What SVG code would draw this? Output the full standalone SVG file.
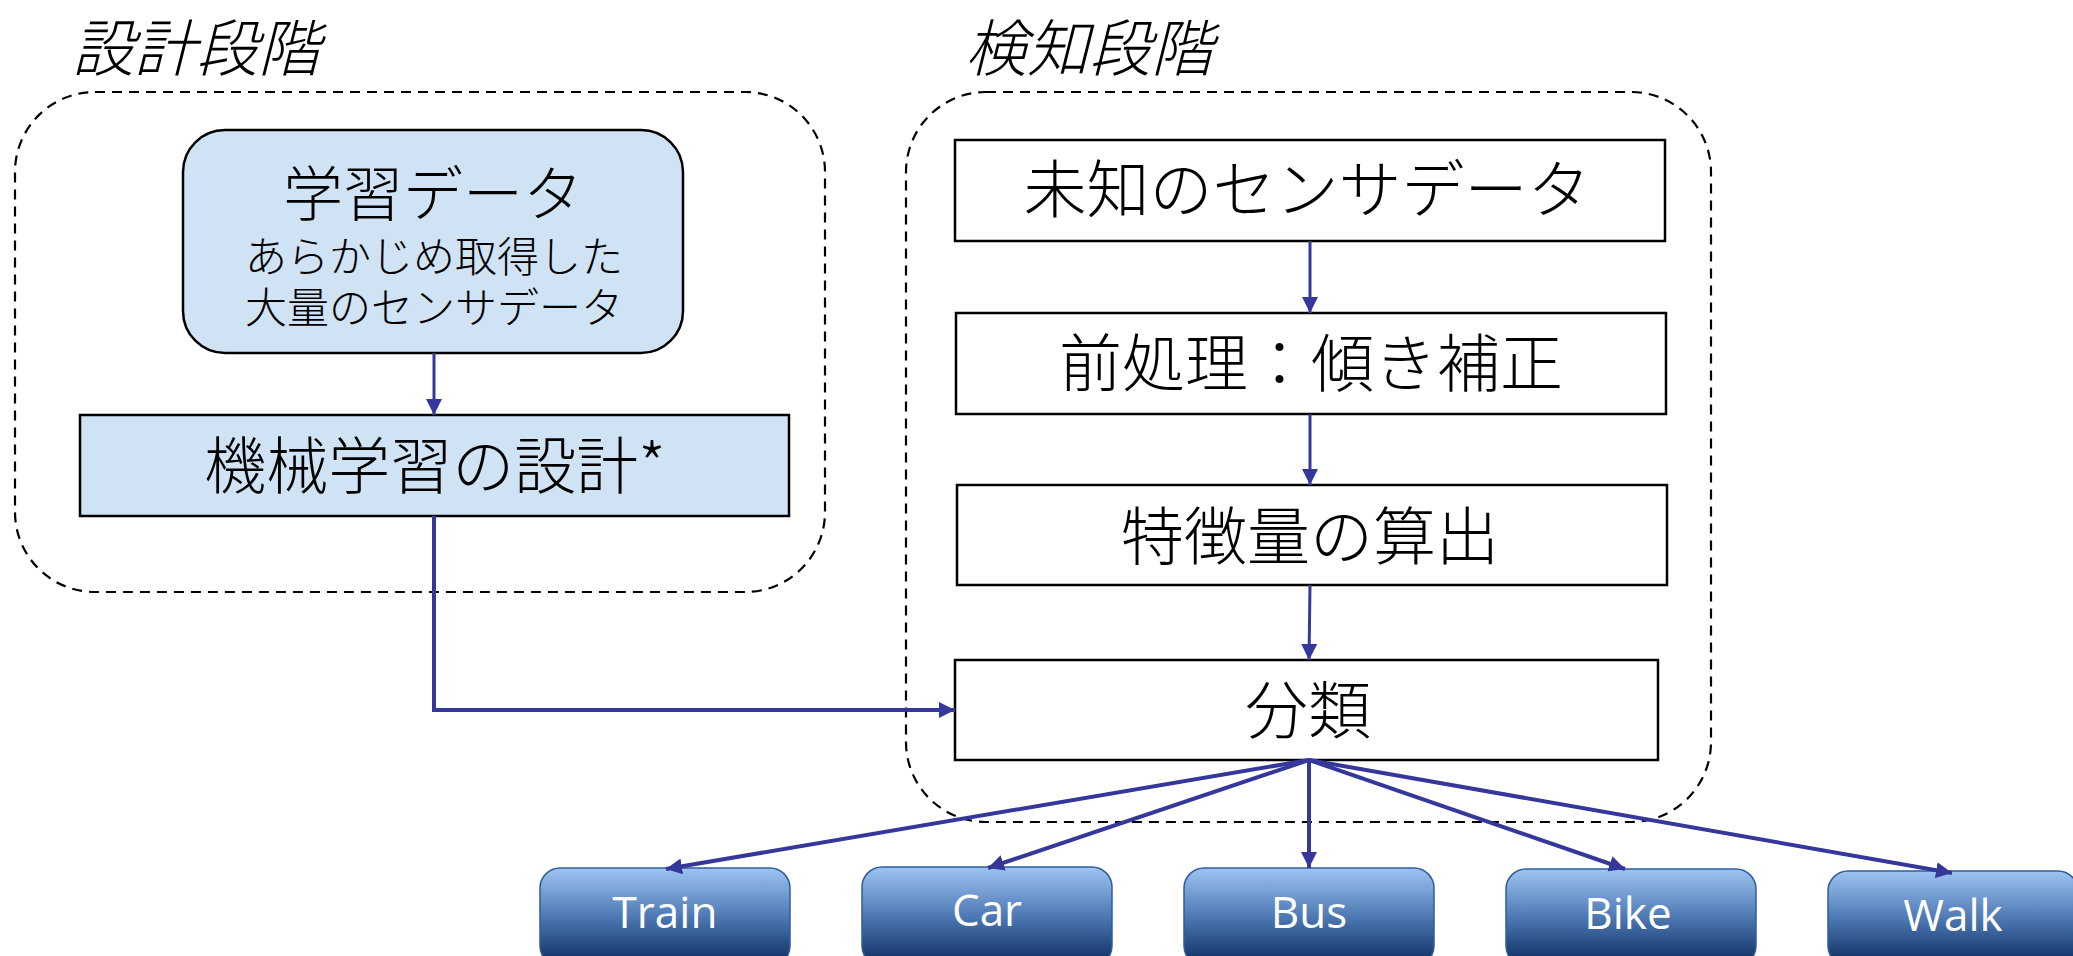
<svg xmlns="http://www.w3.org/2000/svg" width="2073" height="956" viewBox="0 0 2073 956">
<style>
.cjk{font-family:"Noto Sans CJK JP","Noto Sans",sans-serif;font-weight:300;fill:#000;dominant-baseline:central;text-anchor:middle}
.title{font-family:"Noto Sans CJK JP","Noto Sans",sans-serif;font-weight:300;font-size:62px;font-style:italic;fill:#000;dominant-baseline:central}
.container{fill:none;stroke:#000;stroke-width:2.2;stroke-dasharray:10 7}
.proc{fill:#fff;stroke:#000;stroke-width:2.5}
.blue{fill:#cfe3f5;stroke:#000;stroke-width:2.5}
.out{fill:url(#g);stroke:#2f5d9c;stroke-width:1.5}
.outlbl{font-family:"Open Sans","Noto Sans",sans-serif;font-size:44px;fill:#fff;text-anchor:middle}
.conn{fill:none;stroke:#35389a;stroke-width:4;marker-end:url(#ah)}
.thin{stroke-width:3}
</style>
<defs>
<linearGradient id="g" x1="0" y1="0" x2="0" y2="1">
<stop offset="0" stop-color="#9dc4f2"/>
<stop offset="0.5" stop-color="#4d78b3"/>
<stop offset="1" stop-color="#0a2a5e"/>
</linearGradient>
<marker id="ah" markerUnits="userSpaceOnUse" markerWidth="18" markerHeight="16" refX="16" refY="8" orient="auto">
<path d="M0,0 L16,8 L0,16 Z" fill="#35389a"/>
</marker>
</defs>

<g id="title-design"><text class="title" x="72" y="44">設計段階</text></g>
<g id="title-detect"><text class="title" x="965" y="44">検知段階</text></g>

<g id="container-design"><rect class="container" x="15" y="92" width="810" height="500" rx="80"/></g>
<g id="container-detect"><rect class="container" x="906" y="92" width="805" height="730" rx="80"/></g>

<g id="node-training-data">
<rect class="blue" x="183" y="130" width="500" height="223" rx="42" stroke-width="4"/>
<text class="cjk" x="433" y="189" font-size="60">学習データ</text>
<text class="cjk" font-size="42"><tspan x="434" y="253">あらかじめ取得した</tspan><tspan x="434" y="304">大量のセンサデータ</tspan></text>
</g>
<g id="node-ml-design">
<rect class="blue" x="80" y="415" width="709" height="101"/>
<text class="cjk" x="435" y="462" font-size="62">機械学習の設計*</text>
</g>

<g id="node-unknown">
<rect class="proc" x="955" y="140" width="710" height="101"/>
<text class="cjk" x="1307" y="184" font-size="63">未知のセンサデータ</text>
</g>
<g id="node-preprocess">
<rect class="proc" x="956" y="313" width="710" height="101"/>
<text class="cjk" x="1311" y="358" font-size="63">前処理：傾き補正</text>
</g>
<g id="node-feature">
<rect class="proc" x="957" y="485" width="710" height="100"/>
<text class="cjk" x="1310" y="531" font-size="63">特徴量の算出</text>
</g>
<g id="node-classify">
<rect class="proc" x="955" y="660" width="703" height="100"/>
<text class="cjk" x="1308" y="705" font-size="63">分類</text>
</g>

<g id="node-train"><rect class="out" x="540" y="868" width="250" height="98" rx="20"/><text class="outlbl" x="665" y="928">Train</text></g>
<g id="node-car"><rect class="out" x="862" y="867" width="250" height="99" rx="20"/><text class="outlbl" x="987" y="926">Car</text></g>
<g id="node-bus"><rect class="out" x="1184" y="868" width="250" height="98" rx="20"/><text class="outlbl" x="1309" y="928">Bus</text></g>
<g id="node-bike"><rect class="out" x="1506" y="869" width="250" height="97" rx="20"/><text class="outlbl" x="1628" y="929">Bike</text></g>
<g id="node-walk"><rect class="out" x="1828" y="871" width="250" height="95" rx="20"/><text class="outlbl" x="1953" y="931">Walk</text></g>

<g id="connectors">
<path class="conn thin" d="M434,353 L434,415"/>
<path class="conn" stroke-width="4.5" d="M434,516 L434,710 L955,710"/>
<path class="conn thin" d="M1310,241 L1310,313"/>
<path class="conn thin" d="M1310,414 L1310,485"/>
<path class="conn thin" d="M1310,585 L1309,660"/>
<path class="conn" d="M1309,760 L666,869"/>
<path class="conn" d="M1309,760 L988,868"/>
<path class="conn" d="M1309,760 L1309,868"/>
<path class="conn" d="M1309,760 L1625,869"/>
<path class="conn" d="M1309,760 L1952,873"/>
</g>
</svg>
